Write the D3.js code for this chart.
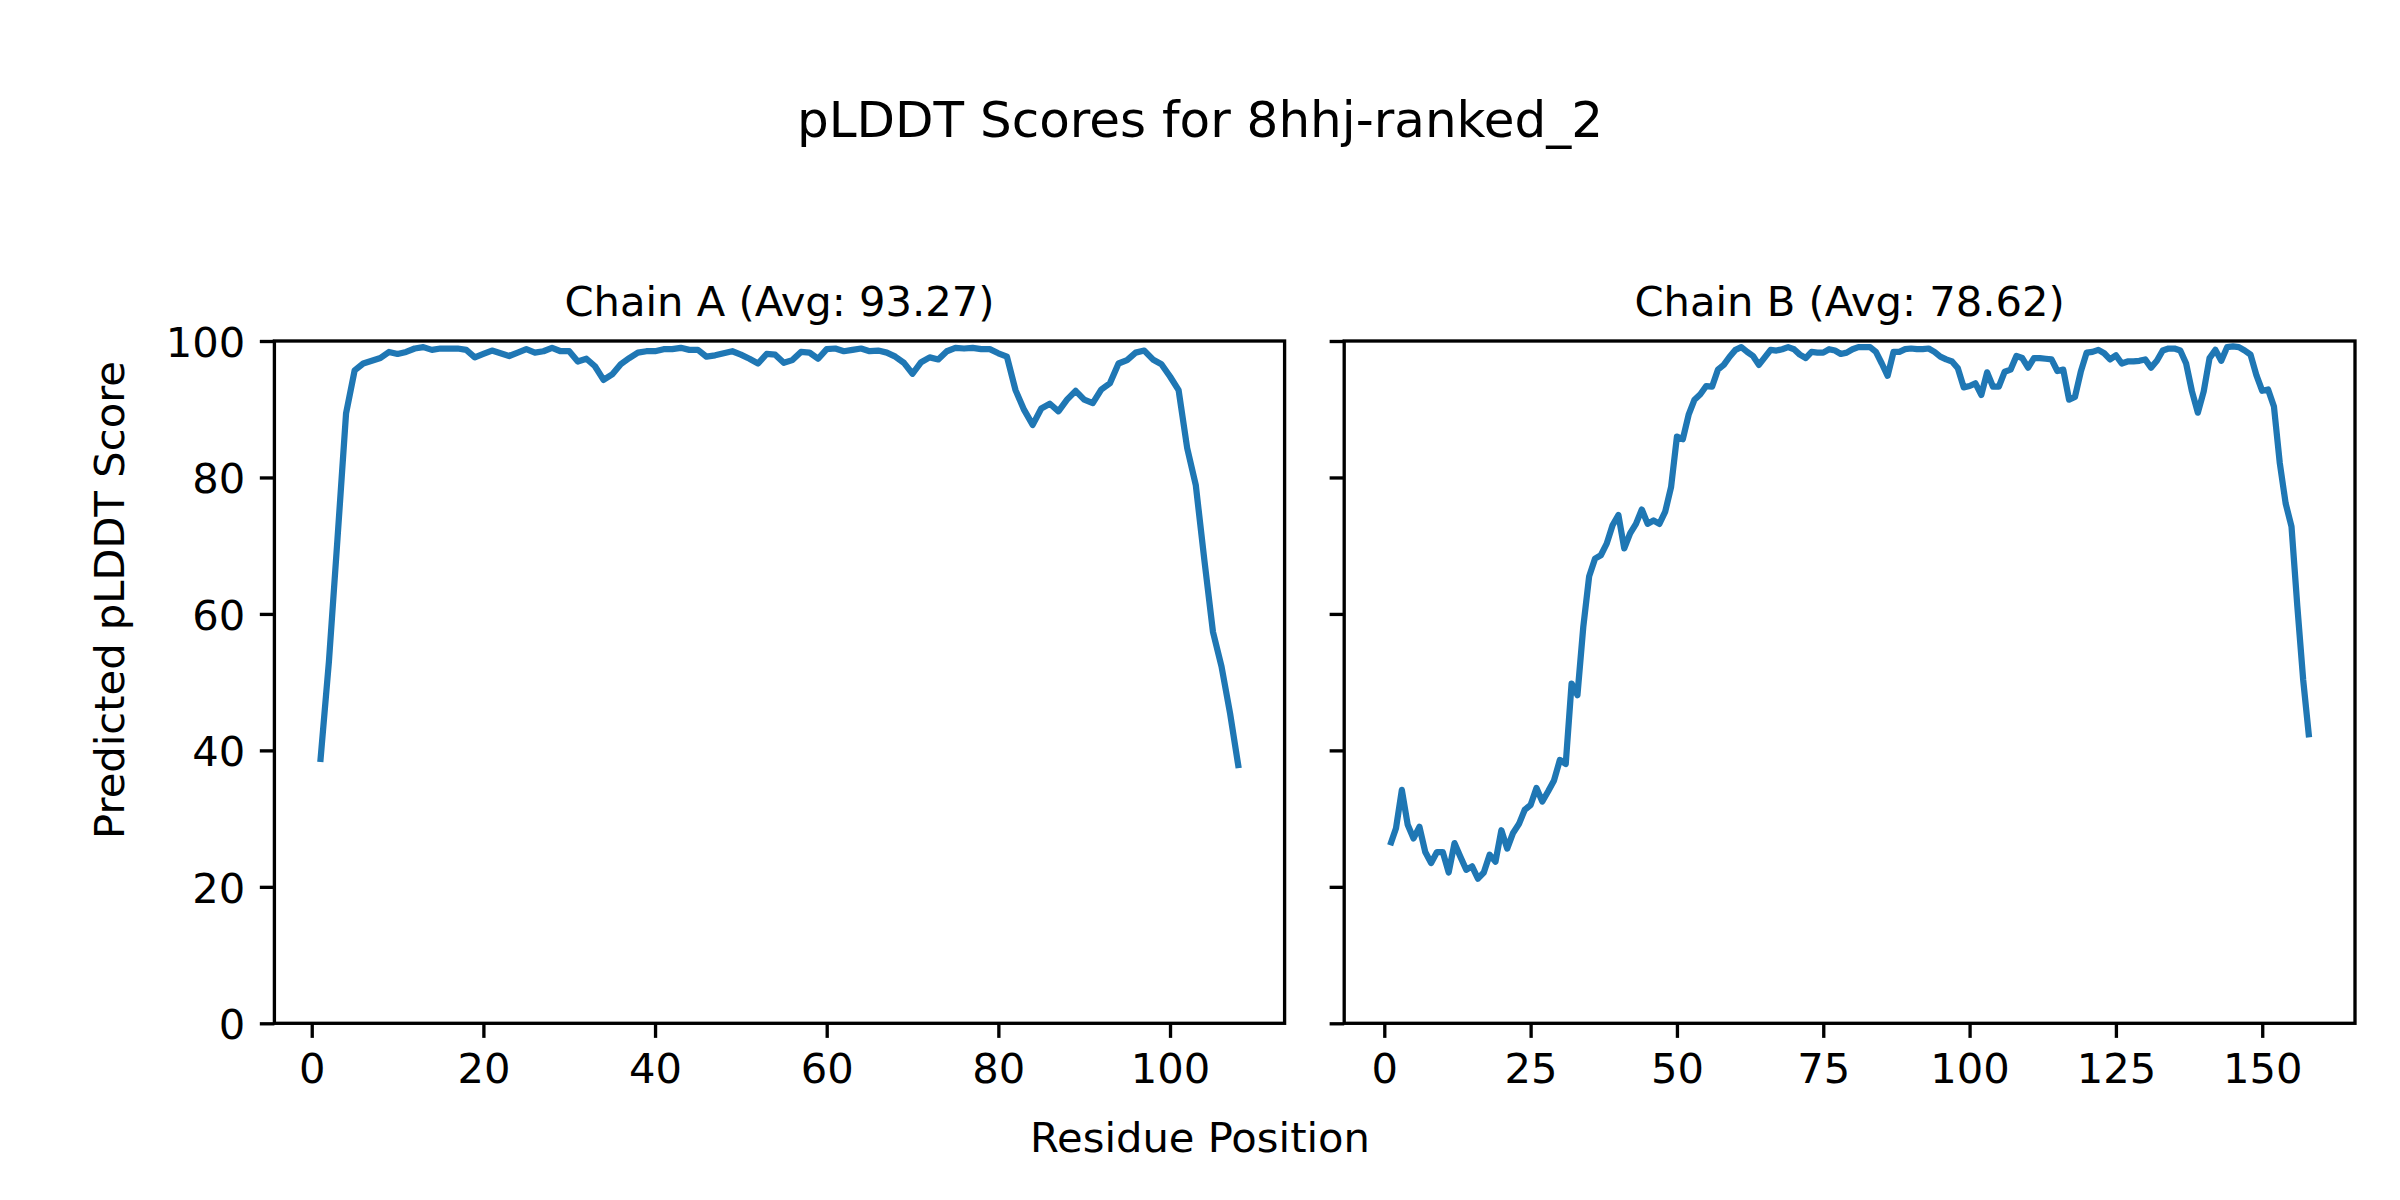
<!DOCTYPE html>
<html>
<head>
<meta charset="utf-8">
<script src="https://cdn.jsdelivr.net/npm/d3@7"></script>
<style>
  html, body { margin: 0; padding: 0; background: #ffffff; }
  svg { display: block; }
  text { font-family: "DejaVu Sans", sans-serif; fill: #000; }
</style>
</head>
<body>
<svg id="chart" width="2400" height="1200"></svg>
<script>
// ---------------- DATA ----------------
const figureTitle = "pLDDT Scores for 8hhj-ranked_2";
const xLabel = "Residue Position";
const yLabel = "Predicted pLDDT Score";
const chainTitles = ["Chain A (Avg: 93.27)", "Chain B (Avg: 78.62)"];

const chainA = [
  38.3, 53.0, 71.0, 89.4, 95.7, 96.7, 97.1, 97.5, 98.4, 98.1,
  98.4, 98.9, 99.1, 98.7, 98.9, 98.9, 98.9, 98.7, 97.6, 98.1,
  98.6, 98.2, 97.8, 98.3, 98.8, 98.3, 98.5, 99.0, 98.5, 98.5,
  97.0, 97.4, 96.3, 94.3, 95.1, 96.6, 97.5, 98.3, 98.5, 98.5,
  98.8, 98.8, 99.0, 98.7, 98.7, 97.7, 97.9, 98.2, 98.5, 98.0,
  97.4, 96.7, 98.1, 98.0, 96.8, 97.2, 98.4, 98.3, 97.4, 98.8,
  98.9, 98.5, 98.7, 98.9, 98.5, 98.6, 98.3, 97.7, 96.8, 95.2,
  96.9, 97.6, 97.3, 98.5, 99.0, 98.9, 99.0, 98.8, 98.8, 98.2,
  97.7, 92.8, 89.9, 87.7, 90.1, 90.8, 89.7, 91.4, 92.7, 91.4,
  90.9, 92.9, 93.8, 96.7, 97.2, 98.3, 98.6, 97.3, 96.6, 94.8,
  92.8, 84.3, 78.9, 67.9, 57.4, 52.3, 45.4, 37.4
];

const chainB = [
  26.1, 28.6, 34.2, 29.1, 27.1, 28.8, 25.1, 23.5, 25.1, 25.1,
  22.1, 26.4, 24.4, 22.5, 23.0, 21.2, 22.1, 24.7, 23.7, 28.3,
  25.6, 27.9, 29.2, 31.3, 32.0, 34.5, 32.5, 34.0, 35.6, 38.6,
  38.0, 49.8, 48.1, 58.1, 65.5, 68.1, 68.6, 70.3, 73.0, 74.5,
  69.6, 71.8, 73.2, 75.3, 73.2, 73.7, 73.2, 75.0, 78.6, 86.0,
  85.6, 89.2, 91.4, 92.2, 93.4, 93.3, 95.8, 96.5, 97.7, 98.7,
  99.1, 98.4, 97.8, 96.5, 97.6, 98.7, 98.6, 98.8, 99.1, 98.8,
  98.0, 97.5, 98.4, 98.3, 98.3, 98.8, 98.6, 98.1, 98.3, 98.8,
  99.1, 99.1, 99.1, 98.4, 96.7, 94.9, 98.4, 98.4, 98.8, 98.9,
  98.8, 98.8, 98.9, 98.4, 97.7, 97.3, 97.0, 96.0, 93.2, 93.4,
  93.8, 92.1, 95.4, 93.3, 93.3, 95.5, 95.8, 97.8, 97.5, 96.1,
  97.5, 97.5, 97.4, 97.3, 95.6, 95.8, 91.4, 91.8, 95.5, 98.3,
  98.4, 98.7, 98.2, 97.3, 97.9, 96.7, 97.0, 97.0, 97.1, 97.3,
  96.1, 97.1, 98.6, 98.9, 98.9, 98.6, 96.7, 92.6, 89.5, 92.6,
  97.5, 98.7, 97.1, 99.1, 99.2, 99.1, 98.6, 98.0, 95.0, 92.7,
  92.9, 90.4, 82.1, 76.2, 72.8, 61.1, 50.3, 41.9
];

const xTicksA = [0, 20, 40, 60, 80, 100];
const xTicksB = [0, 25, 50, 75, 100, 125, 150];
const yTicks = [0, 20, 40, 60, 80, 100];

// ---------------- LAYOUT ----------------
const W = 2400, H = 1200;
const plotTop = 341, plotBottom = 1023.3;
const panels = [
  { left: 274.4, right: 1284.6, values: chainA, ticks: xTicksA, title: chainTitles[0], showYLabels: true },
  { left: 1344.2, right: 2355.0, values: chainB, ticks: xTicksB, title: chainTitles[1], showYLabels: false }
];
const FS = 41.67;          // 10pt at 300 dpi
const TITLE_FS = 50;       // 12pt
const TICK_LEN = 14.58;    // 3.5pt
const LW_SPINE = 3.33;     // 0.8pt
const LINE_COLOR = "#1f77b4";

const svg = d3.select("#chart");
svg.append("rect").attr("width", W).attr("height", H).attr("fill", "#ffffff");

const y = d3.scaleLinear().domain([0, 100]).range([plotBottom, plotTop]);

panels.forEach((p, pi) => {
  const n = p.values.length;
  const residues = d3.range(1, n + 1);
  const span = n - 1;
  const x = d3.scaleLinear()
    .domain([1 - 0.05 * span, n + 0.05 * span])
    .range([p.left, p.right]);

  const g = svg.append("g");

  // x axis
  const xAxis = d3.axisBottom(x)
    .tickValues(p.ticks)
    .tickFormat(d3.format("d"))
    .tickSize(TICK_LEN)
    .tickSizeOuter(0)
    .tickPadding(15.9);
  const gx = g.append("g").attr("transform", `translate(0,${plotBottom})`).call(xAxis);
  gx.select(".domain").remove();
  gx.selectAll(".tick line").attr("stroke", "#000").attr("stroke-width", LW_SPINE);
  gx.selectAll(".tick text")
    .attr("font-family", "DejaVu Sans")
    .attr("font-size", FS)
    .attr("fill", "#000");

  // y axis
  const yAxis = d3.axisLeft(y)
    .tickValues(yTicks)
    .tickFormat(p.showYLabels ? d3.format("d") : () => "")
    .tickSize(TICK_LEN)
    .tickSizeOuter(0)
    .tickPadding(14.6);
  const gy = g.append("g").attr("transform", `translate(${p.left},0)`).call(yAxis);
  gy.select(".domain").remove();
  gy.selectAll(".tick line").attr("stroke", "#000").attr("stroke-width", LW_SPINE);
  gy.selectAll(".tick text")
    .attr("font-family", "DejaVu Sans")
    .attr("font-size", FS)
    .attr("dy", "0.365em")
    .attr("fill", "#000");

  // clip and line
  const clipId = "clip" + pi;
  svg.append("clipPath").attr("id", clipId)
    .append("rect").attr("x", p.left).attr("y", plotTop)
    .attr("width", p.right - p.left).attr("height", plotBottom - plotTop);

  const line = d3.line()
    .x((d, i) => x(residues[i]))
    .y(d => y(d));

  g.append("path")
    .datum(p.values)
    .attr("clip-path", `url(#${clipId})`)
    .attr("fill", "none")
    .attr("stroke", LINE_COLOR)
    .attr("stroke-width", 6.25)
    .attr("stroke-linejoin", "round")
    .attr("stroke-linecap", "butt")
    .attr("d", line);

  // spines
  g.append("rect")
    .attr("x", p.left).attr("y", plotTop)
    .attr("width", p.right - p.left).attr("height", plotBottom - plotTop)
    .attr("fill", "none")
    .attr("stroke", "#000")
    .attr("stroke-width", LW_SPINE)
    .attr("stroke-linejoin", "miter");

  // panel title
  g.append("text")
    .attr("x", (p.left + p.right) / 2)
    .attr("y", plotTop - 25)
    .attr("text-anchor", "middle")
    .attr("font-size", FS)
    .text(p.title);
});

// figure title
svg.append("text")
  .attr("x", W / 2)
  .attr("y", 137)
  .attr("text-anchor", "middle")
  .attr("font-size", TITLE_FS)
  .text(figureTitle);

// shared x label
svg.append("text")
  .attr("x", W / 2)
  .attr("y", 1152)
  .attr("text-anchor", "middle")
  .attr("font-size", FS)
  .text(xLabel);

// shared y label
svg.append("text")
  .attr("transform", `translate(124,${H / 2}) rotate(-90)`)
  .attr("text-anchor", "middle")
  .attr("font-size", FS)
  .text(yLabel);
</script>
</body>
</html>
